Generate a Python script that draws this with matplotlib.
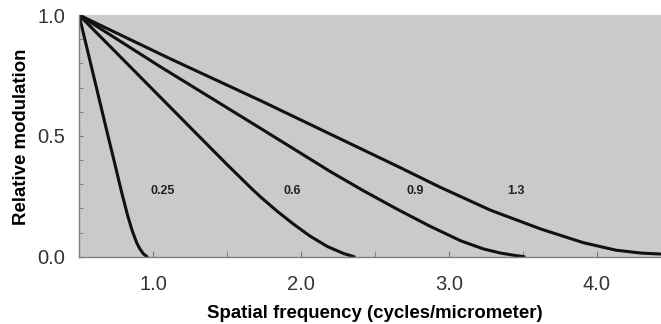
import matplotlib.pyplot as plt
from matplotlib.ticker import MultipleLocator

# curves, (x, y) for each labelled value
c025_x = [0.5, 0.6, 0.70, 0.74, 0.79, 0.83, 0.86, 0.89, 0.91, 0.935, 0.96]
c025_y = [1.0, 0.745, 0.49, 0.39, 0.262, 0.168, 0.107, 0.058, 0.034, 0.012, 0.0]

c06_x = [0.5, 1.05, 1.26, 1.50, 1.67, 1.73, 1.84, 1.95, 2.06, 2.18, 2.29, 2.36]
c06_y = [1.0, 0.66, 0.530, 0.382, 0.280, 0.246, 0.188, 0.135, 0.086, 0.042, 0.013, 0.0]

c09_x = [0.5, 1.05, 1.73, 2.20, 2.42, 2.65, 2.87, 3.08, 3.23, 3.35, 3.45, 3.51]
c09_y = [1.0, 0.786, 0.530, 0.352, 0.274, 0.197, 0.127, 0.066, 0.033, 0.015, 0.005, 0.0]

c13_x = [0.5, 1.12, 1.73, 2.20, 2.65, 2.94, 3.28, 3.62, 3.91, 4.13, 4.30, 4.43]
c13_y = [1.0, 0.818, 0.645, 0.507, 0.375, 0.288, 0.193, 0.115, 0.058, 0.027, 0.015, 0.011]

labels = ['0.25', '0.6', '0.9', '1.3']
label_x = [1.065, 1.943, 2.77, 3.455]
label_y = [0.272, 0.272, 0.272, 0.272]

xticks = [1.0, 2.0, 3.0, 4.0]
yticks = [0.0, 0.5, 1.0]

plt.rcParams['font.family'] = ['Liberation Sans', 'DejaVu Sans']

fig = plt.figure(figsize=(6.61, 3.24), dpi=100)
ax = fig.add_axes([79 / 661, 1 - 256.7 / 324, 1 - 79 / 661, 241.7 / 324])
ax.set_facecolor('#cacaca')

for xs, ys in [(c025_x, c025_y), (c06_x, c06_y), (c09_x, c09_y), (c13_x, c13_y)]:
	ax.plot(xs, ys, color='#111111', lw=2.2, solid_capstyle='round', solid_joinstyle='round')

for t, x, y in zip(labels, label_x, label_y):
	ax.text(x, y, t, fontsize=9, fontweight='bold', ha='center', va='center', color='#222222')

ax.set_xlim(0.5, 4.435)
ax.set_ylim(0, 1)
ax.set_xticks(xticks)
ax.set_xticklabels(['%.1f' % v for v in xticks])
ax.set_yticks(yticks)
ax.set_yticklabels(['%.1f' % v for v in yticks])
ax.xaxis.set_minor_locator(MultipleLocator(0.5))
ax.yaxis.set_minor_locator(MultipleLocator(0.1))
ax.tick_params(which='both', direction='in', color='#777777', labelcolor='#333333', labelsize=14.5)
ax.tick_params(axis='x', which='major', length=4, pad=13)
ax.tick_params(axis='x', which='minor', length=4)
ax.tick_params(axis='y', which='both', length=3, pad=10)

for s in ['top', 'right']:
	ax.spines[s].set_visible(False)
for s in ['left', 'bottom']:
	ax.spines[s].set_color('#808080')
	ax.spines[s].set_linewidth(1.0)

fig.text(375 / 661, 1 - 313 / 324, 'Spatial frequency (cycles/micrometer)', fontsize=13.4,
		 fontweight='bold', ha='center', va='center')
fig.text(22 / 661, 1 - 137 / 324, 'Relative modulation', fontsize=13.4, fontweight='bold',
		 ha='center', va='center', rotation=90)

fig.savefig('out.png', dpi=100)
